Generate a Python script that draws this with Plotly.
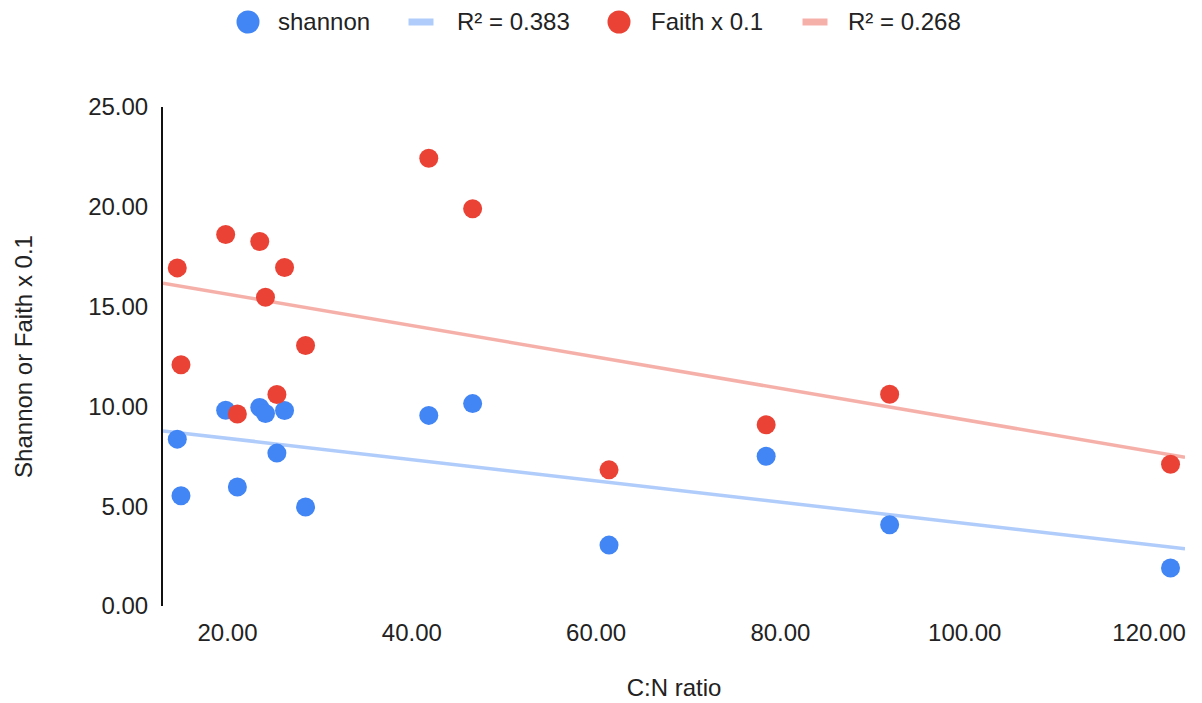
import numpy as np
import plotly.graph_objects as go

# ---- data ----
cn_ratio = [14.55, 14.95, 19.80, 21.07, 23.50, 24.12, 25.36, 26.19, 28.47,
            41.84, 46.60, 61.40, 78.45, 91.85, 122.33]
shannon = [8.36, 5.52, 9.81, 5.96, 9.95, 9.64, 7.66, 9.79, 4.96,
           9.55, 10.14, 3.05, 7.50, 4.07, 1.90]
faith_x01 = [16.94, 12.09, 18.61, 9.62, 18.26, 15.47, 10.60, 16.96, 13.05,
             22.43, 19.90, 6.82, 9.08, 10.61, 7.10]
series_names = ["shannon", "Faith x 0.1"]
trend_labels = ["R\u00b2 = 0.383", "R\u00b2 = 0.268"]
x_ticks = [20, 40, 60, 80, 100, 120]
y_ticks = [0, 5, 10, 15, 20, 25]
x_range = [13.0, 123.9]
y_range = [0, 25]

# ---- style ----
W, H = 1202, 703
M_L, M_R, M_T, M_B = 163, 17, 107, 97
PW, PH = W - M_L - M_R, H - M_T - M_B
colors = ["#4285F4", "#EA4335"]
trend_colors = ["rgba(66,133,244,0.42)", "rgba(234,67,53,0.42)"]
FONT = "Liberation Sans, Arial, sans-serif"
TXT = "#222222"
FS = 24

fig = go.Figure()
series = [shannon, faith_x01]
xs = np.array(cn_ratio)
for vals, name, col, tcol, tlab in zip(series, series_names, colors, trend_colors, trend_labels):
    ys = np.array(vals)
    slope, intercept = np.polyfit(xs, ys, 1)
    xl = np.array(x_range)
    fig.add_trace(go.Scatter(x=xl, y=slope * xl + intercept, mode="lines",
                             line=dict(color=tcol, width=3.5), name=tlab,
                             hoverinfo="skip", showlegend=False))
for vals, name, col in zip(series, series_names, colors):
    fig.add_trace(go.Scatter(x=cn_ratio, y=vals, mode="markers", name=name,
                             marker=dict(color=col, size=19, line=dict(width=0)),
                             showlegend=False))

# ---- manual legend (large symbols like the reference) ----
def paper_x(px):
    return (px - M_L) / PW

def paper_y(py):
    return (H - M_B - py) / PH

legend_y = 22
legend_items = [
    ("marker", colors[0], 248, series_names[0], 276),
    ("line", trend_colors[0], 421, trend_labels[0], 455),
    ("marker", colors[1], 619, series_names[1], 649),
    ("line", trend_colors[1], 815, trend_labels[1], 846),
]
shapes = []
annotations = []
for kind, col, sx, label, tx in legend_items:
    if kind == "marker":
        shapes.append(dict(type="circle", xref="paper", yref="paper",
                           xsizemode="pixel", ysizemode="pixel",
                           xanchor=paper_x(sx), yanchor=paper_y(legend_y),
                           x0=-11.5, x1=11.5, y0=-11.5, y1=11.5,
                           fillcolor=col, line=dict(width=0)))
    else:
        shapes.append(dict(type="rect", xref="paper", yref="paper",
                           xsizemode="pixel", ysizemode="pixel",
                           xanchor=paper_x(sx), yanchor=paper_y(legend_y),
                           x0=-12.5, x1=12.5, y0=-3.5, y1=3.5,
                           fillcolor=col, line=dict(width=0)))
    annotations.append(dict(text=label, x=paper_x(tx), y=paper_y(legend_y),
                            xref="paper", yref="paper", xanchor="left",
                            yanchor="middle", showarrow=False,
                            font=dict(family=FONT, size=FS, color=TXT)))

fig.update_layout(
    width=W, height=H, autosize=False,
    margin=dict(l=M_L, r=M_R, t=M_T, b=M_B, pad=0, autoexpand=False),
    paper_bgcolor="white", plot_bgcolor="white",
    font=dict(family=FONT, size=FS, color=TXT),
    showlegend=False,
    shapes=shapes, annotations=annotations,
    xaxis=dict(range=x_range, tickvals=x_ticks, tickformat=".2f",
               automargin=False,
               showgrid=False, zeroline=False, showline=False,
               ticks="", ticklabelstandoff=10,
               tickfont=dict(family=FONT, size=FS, color=TXT),
               title=dict(text="C:N ratio", standoff=34,
                          font=dict(family=FONT, size=FS, color=TXT))),
    yaxis=dict(range=y_range, tickvals=y_ticks, tickformat=".2f",
               automargin=False,
               showgrid=False, zeroline=False, showline=True,
               linecolor="#111111", linewidth=2,
               ticks="", ticklabelstandoff=8,
               tickfont=dict(family=FONT, size=FS, color=TXT),
               title=dict(text="Shannon or Faith x 0.1", standoff=49,
                          font=dict(family=FONT, size=FS, color=TXT))),
)

fig.write_html("out.html", config={"displayModeBar": False},
               post_script="document.body.style.margin='0';")
